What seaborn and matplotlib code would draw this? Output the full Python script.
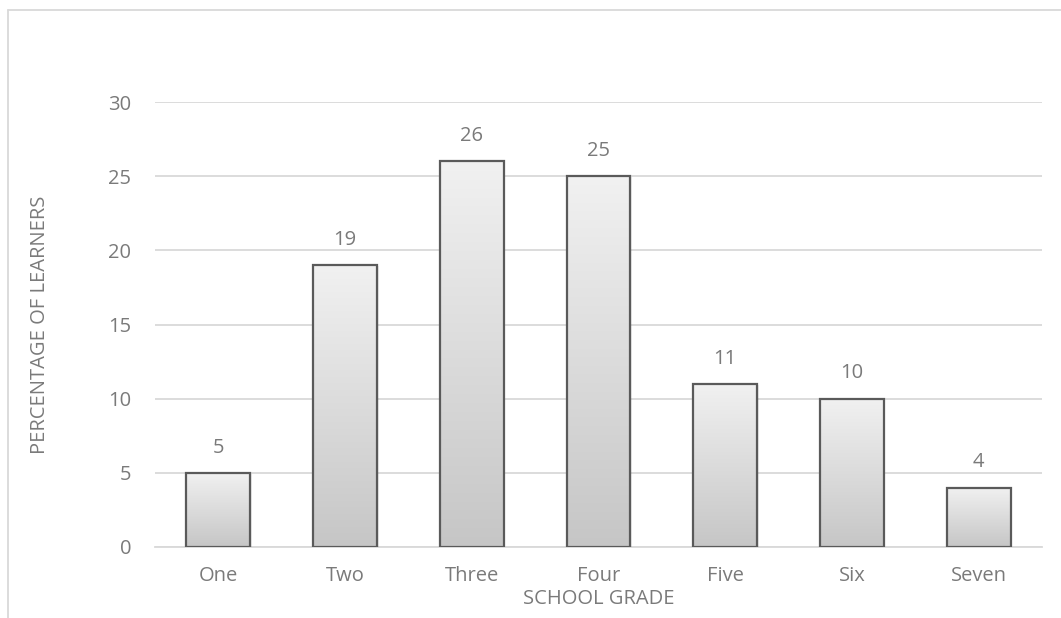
import numpy as np
import pandas as pd
import matplotlib
matplotlib.use("Agg")
import matplotlib.pyplot as plt
from matplotlib.colors import LinearSegmentedColormap
from matplotlib.lines import Line2D
import seaborn as sns

grades = ["One", "Two", "Three", "Four", "Five", "Six", "Seven"]
percentages = [5, 19, 26, 25, 11, 10, 4]
y_ticks = [0, 5, 10, 15, 20, 25, 30]

sns.set_theme(style="white")
plt.rcParams["font.family"] = ["Open Sans", "DejaVu Sans"]

TEXT = "#7a7a7a"
GRID = "#d9d9d9"
EDGE = "#5a5a5a"
FS = 14.5

fig = plt.figure(figsize=(10.61, 6.18), dpi=100)
W, H = 1061, 618
ax = fig.add_axes([155 / W, 1 - 547 / H, (1042 - 155) / W, (547 - 102) / H])

df = pd.DataFrame({"grade": grades, "pct": percentages})
sns.barplot(data=df, x="grade", y="pct", order=grades, width=0.505,
            color="#dddddd", edgecolor=EDGE, linewidth=1.6, ax=ax,
            saturation=1, zorder=3)

ax.set_xlim(-0.5, len(grades) - 0.5)
ax.set_ylim(0, 30)

cmap = LinearSegmentedColormap.from_list("g", ["#c6c6c6", "#f1f1f1"])
grad = np.linspace(0, 1, 256).reshape(-1, 1)
for p in list(ax.patches):
    x0, y0 = p.get_x(), p.get_y()
    w, h = p.get_width(), p.get_height()
    # subtle shadow
    from matplotlib.patches import Rectangle
    sh = Rectangle((x0 + 0.012, y0), w, h - 0.08, facecolor="#000000",
                   alpha=0.07, edgecolor="none", zorder=2)
    ax.add_patch(sh)
    im = ax.imshow(grad, extent=[x0, x0 + w, y0, y0 + h], origin="lower",
                   cmap=cmap, aspect="auto", zorder=3.5, interpolation="bilinear")
    im.set_clip_path(p)
    p.set_facecolor("none")
    p.set_zorder(4)

ax.set_xlim(-0.5, len(grades) - 0.5)
ax.set_ylim(0, 30)
ax.set_yticks(y_ticks)
ax.yaxis.grid(True, color=GRID, linewidth=1.3, zorder=0)
ax.set_axisbelow(True)
for s in ["top", "right", "left"]:
    ax.spines[s].set_visible(False)
ax.spines["bottom"].set_color(GRID)
ax.spines["bottom"].set_linewidth(1.3)
ax.spines["bottom"].set_zorder(1)

ax.tick_params(axis="both", length=0, labelsize=FS, colors=TEXT)
ax.tick_params(axis="x", pad=14)
ax.tick_params(axis="y", pad=17)

for c in ax.containers:
    ax.bar_label(c, labels=[str(v) for v in percentages], padding=11,
                 fontsize=FS, color=TEXT)

ax.set_xlabel("SCHOOL GRADE", fontsize=FS, color=TEXT)
ax.set_ylabel("PERCENTAGE OF LEARNERS", fontsize=FS, color=TEXT)
ax.xaxis.label.set_va("center")
ax.xaxis.set_label_coords(0.5, (547 - 599) / (547 - 102))
ax.yaxis.label.set_va("center")
ax.yaxis.set_label_coords((40 - 155) / (1042 - 155), 0.5)

# outer chart frame (partially visible)
fig.add_artist(Line2D([8 / W, 8 / W], [0, 1 - 10 / H], transform=fig.transFigure,
                      color=GRID, linewidth=1.3))
fig.add_artist(Line2D([8 / W, 1], [1 - 10 / H, 1 - 10 / H], transform=fig.transFigure,
                      color=GRID, linewidth=1.3))

fig.savefig("out.png", dpi=100)
